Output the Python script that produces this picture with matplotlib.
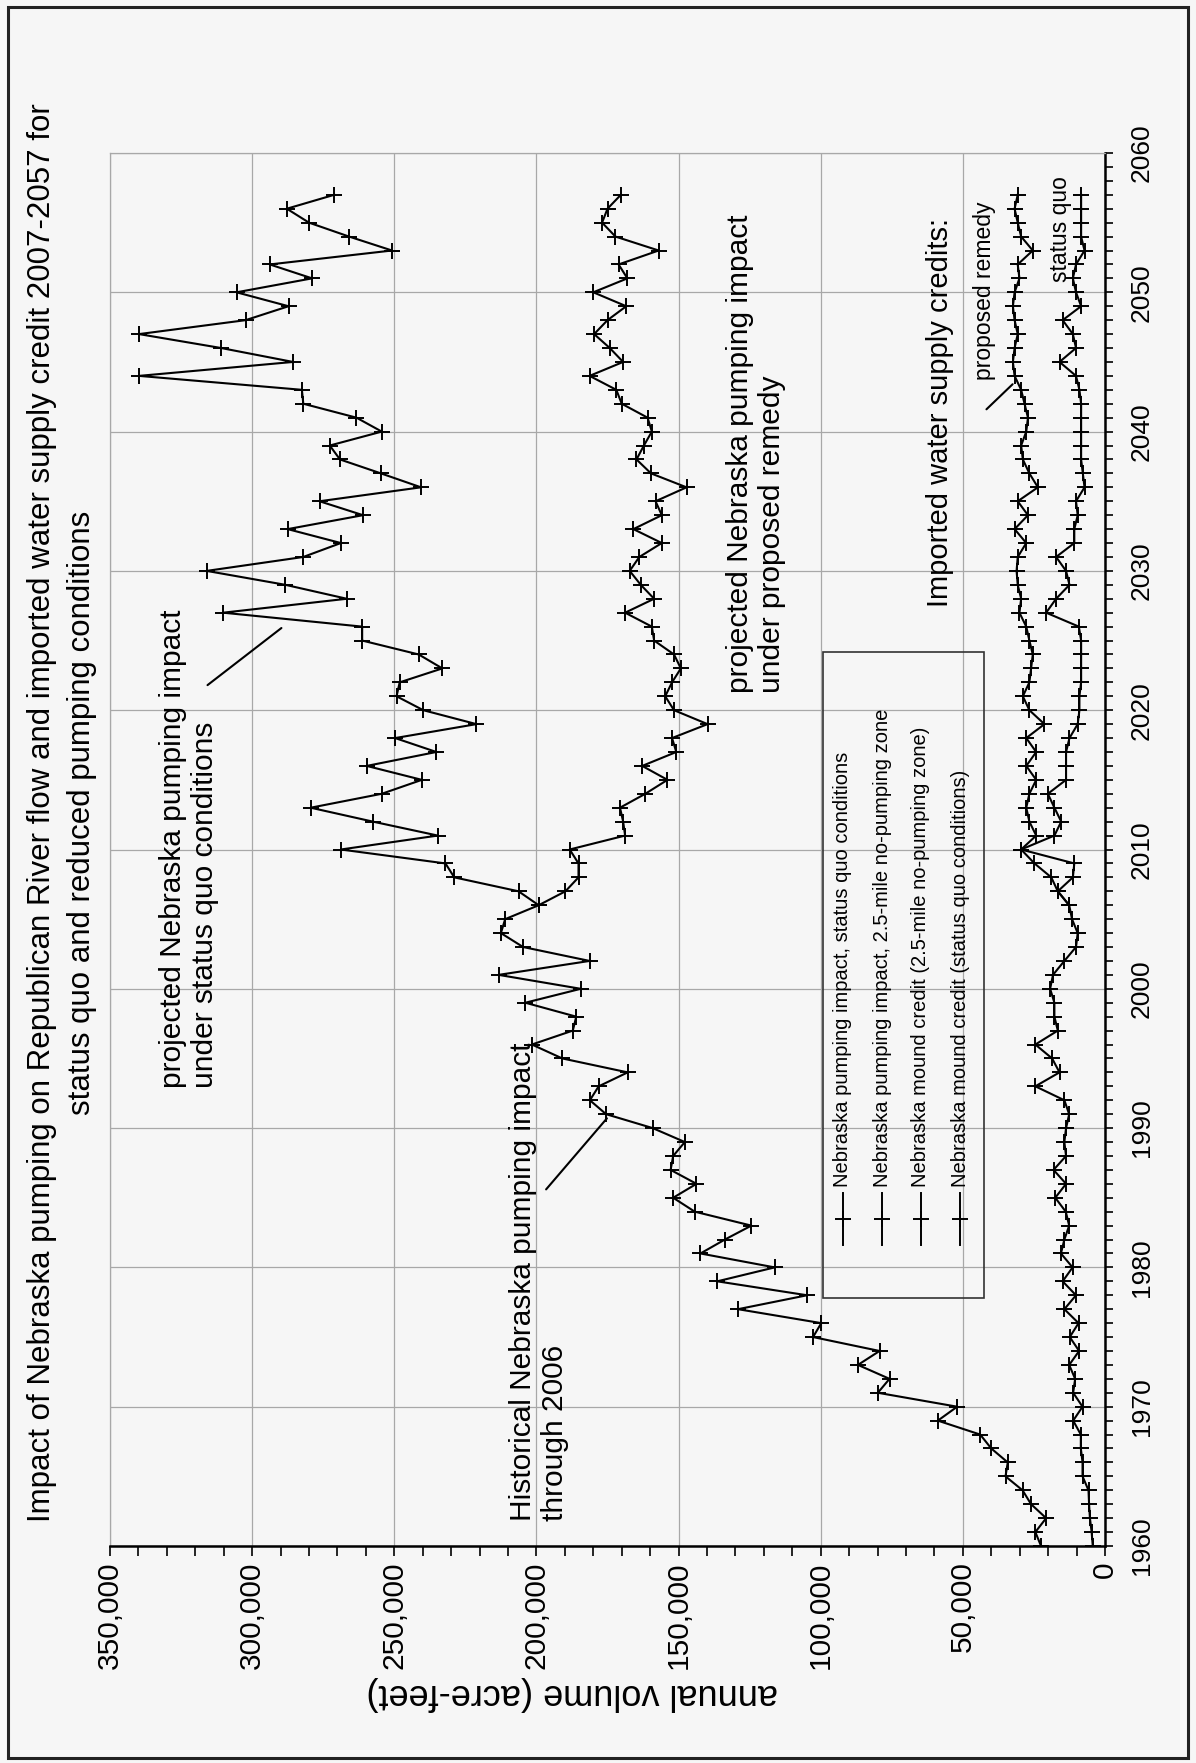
import numpy as np
import matplotlib
matplotlib.use('Agg')
import matplotlib.pyplot as plt
from matplotlib.patches import Rectangle
from matplotlib.lines import Line2D

plt.rcParams['font.family'] = ['Liberation Sans', 'DejaVu Sans']

# ---- data (acre-feet) ----
hist_years = list(range(1960, 2007))
hist_impact = [22500, 24500, 20700, 26000, 29000, 35000, 34200, 40000, 43900, 58800,
               52000, 79900, 75800, 86900, 79300, 102700, 99800, 129100, 104800, 136400,
               116200, 142300, 133700, 124400, 144300, 151900, 143700, 152800, 151900, 147800,
               159100, 175500, 181200, 178100, 167900, 190900, 201600, 187200, 186000, 203900,
               184400, 213300, 181300, 204700, 212500, 211000, 199200]
hist_credit = [4300, 4700, 5300, 5600, 5800, 7900, 7900, 8500, 8500, 11200,
               7900, 11200, 10500, 12600, 9100, 12400, 9300, 14300, 10200, 14900,
               11400, 15500, 14300, 12600, 13800, 17500, 13700, 18100, 13700, 14300,
               13700, 12600, 14300, 24500, 16000, 18600, 24500, 16600, 17800, 17800,
               19300, 18300, 14300, 10200, 9600, 11600, 12600]

proj_years = list(range(2007, 2058))
sq_impact = [206300, 228900, 232000, 268800, 234700, 257500, 279400, 254400, 240300, 259700,
             235200, 249700, 221100, 239800, 249200, 248100, 233100, 241400, 261300, 261300,
             310200, 266700, 288300, 316000, 282000, 268800, 287500, 261000, 276300, 240600,
             254700, 269100, 272700, 254400, 263300, 282000, 282500, 339800, 285600, 310900,
             339800, 302300, 287200, 305500, 278900, 293800, 250800, 265900, 280000, 287800,
             271100]
rem_impact = [189800, 185200, 185200, 188300, 168800, 169500, 170600, 161700, 153900, 162800,
              150800, 152300, 139800, 151600, 154700, 152300, 149200, 151600, 158600, 159400,
              168800, 158600, 163300, 167200, 163800, 155900, 165900, 155900, 158100, 147200,
              159700, 164800, 162200, 159400, 160900, 170000, 171900, 181300, 169500, 174200,
              179700, 175000, 168400, 180000, 168000, 171100, 157000, 172200, 176900, 175000,
              170300]
sq_credit = [16600, 11300, 10800, 29500, 17800, 15400, 17800, 20100, 13700, 13700,
             13700, 12500, 9600, 9000, 9000, 8400, 8400, 8400, 8400, 9200,
             20700, 17200, 12500, 13700, 17200, 10800, 10800, 9600, 10200, 7200,
             7800, 8400, 8400, 8400, 8400, 8400, 9000, 10200, 16000, 10200,
             11300, 14900, 8400, 10200, 11300, 10200, 7200, 8400, 8400, 8400,
             8400]
rem_credit = [16600, 18900, 24800, 29500, 24200, 26600, 27700, 26600, 24200, 27700,
              24200, 27700, 21300, 26600, 28900, 26600, 26000, 25400, 26600, 27700,
              30100, 29500, 30700, 31100, 30700, 27700, 31800, 27100, 30700, 23600,
              26600, 28900, 29500, 27700, 27100, 28300, 29500, 31800, 32400, 31800,
              30700, 31800, 32400, 31800, 30100, 30700, 25400, 29500, 30700, 31800,
              30700]

legend_labels = ['Nebraska pumping impact, status quo conditions',
                 'Nebraska pumping impact, 2.5-mile no-pumping zone',
                 'Nebraska mound credit (2.5-mile no-pumping zone)',
                 'Nebraska mound credit (status quo conditions)']

# ---- figure: the page is a landscape chart turned a quarter turn ----
W, H = 1196, 1763
BG = '#f6f6f6'
fig = plt.figure(figsize=(W / 100, H / 100), dpi=100, facecolor=BG)


def fx(px):
    return px / W


def fy(py):
    return 1 - py / H


ax = fig.add_axes([fx(110), fy(1546), fx(1105) - fx(110), fy(153) - fy(1546)])
ax.set_facecolor(BG)

style = dict(color='black', lw=1.5, marker='+', ms=11, mew=1.4)
# status quo = history + projection; the remedy lines start from the last historical year
ax.plot(hist_impact + sq_impact, hist_years + proj_years, **style)
ax.plot([hist_impact[-1]] + rem_impact, [hist_years[-1]] + proj_years, **style)
ax.plot([hist_credit[-1]] + rem_credit, [hist_years[-1]] + proj_years, **style)
ax.plot(hist_credit + sq_credit, hist_years + proj_years, **style)

ax.set_xlim(350000, 0)
ax.set_ylim(1960, 2060)

xt = np.arange(0, 350001, 50000)
ax.set_xticks(xt)
ax.set_xticklabels([f'{v:,}' for v in xt], rotation=90, ha='center', va='top', fontsize=21.5)
ax.set_xticks(np.arange(0, 350001, 10000), minor=True)
yt = np.arange(1960, 2061, 10)
ax.yaxis.tick_right()
ax.set_yticks(yt)
ax.set_yticklabels([str(y) for y in yt], rotation=90, ha='left', va='center', fontsize=19)
ax.set_yticks(np.arange(1960, 2061, 1), minor=True)
ax.tick_params(axis='x', which='both', direction='out', length=7, width=1.2, pad=4)
ax.tick_params(axis='y', which='both', direction='out', length=6, width=1.2, pad=12,
               right=True, left=False)

ax.grid(True, which='major', color='#a8a8a8', lw=0.9)
for s in ['bottom', 'right']:
    ax.spines[s].set_color('black')
    ax.spines[s].set_linewidth(1.8)
for s in ['top', 'left']:
    ax.spines[s].set_color('#a8a8a8')
    ax.spines[s].set_linewidth(0.9)

# ---- texts ----
tr = fig.transFigure
fig.text(fx(62), fy(813),
         'Impact of Nebraska pumping on Republican River flow and imported water supply credit 2007-2057 for\n'
         'status quo and reduced pumping conditions',
         rotation=90, ha='center', va='center', multialignment='center', fontsize=22.5, linespacing=1.45)
fig.text(fx(572), fy(1694), 'annual volume (acre-feet)', rotation=180, ha='center', va='center', fontsize=26)

ann = dict(rotation=90, ha='center', va='bottom', multialignment='left', fontsize=21.5, linespacing=1.15)
fig.text(fx(189), fy(1088), 'projected Nebraska pumping impact\nunder status quo conditions', **ann)
fig.text(fx(539), fy(1521), 'Historical Nebraska pumping impact\nthrough 2006', **ann)
fig.text(fx(756), fy(693), 'projected Nebraska pumping impact\nunder proposed remedy', **ann)
fig.text(fx(940), fy(607), 'Imported water supply credits:', rotation=90, ha='center', va='bottom', fontsize=21)
fig.text(fx(985), fy(380), 'proposed remedy', rotation=90, ha='center', va='bottom', fontsize=16.5)
fig.text(fx(1060), fy(282), 'status quo', rotation=90, ha='center', va='bottom', fontsize=16.5)

# leader lines (data coordinates)
lead = dict(arrowprops=dict(arrowstyle='-', lw=1.5, color='black', shrinkA=0, shrinkB=0))
ax.annotate('', xy=(175200, 1990.7), xytext=(196600, 1985.6), **lead)
ax.annotate('', xy=(289700, 2025.9), xytext=(315700, 2021.8), **lead)
ax.annotate('', xy=(32500, 2043.4), xytext=(41700, 2041.6), **lead)

# ---- legend drawn by hand (entries turned with the page) ----
fig.patches.append(Rectangle((fx(823), fy(1298)), fx(984) - fx(823), fy(652) - fy(1298),
                             transform=tr, fill=False, ec='#333333', lw=1.2))
for i, lab in enumerate(legend_labels):
    x = fx(843 + i * 39)
    fig.lines.append(Line2D([x, x], [fy(1245), fy(1193)], transform=tr, color='black', lw=1.4))
    fig.lines.append(Line2D([x], [fy(1219)], transform=tr, color='black', marker='+', ms=11, mew=1.4))
    fig.text(x, fy(1187), lab, rotation=90, ha='center', va='bottom', fontsize=14.5)

# page frame
fig.patches.append(Rectangle((fx(8), fy(1758)), fx(1188) - fx(8), fy(7) - fy(1758),
                             transform=tr, fill=False, ec='#222222', lw=2.2))

fig.savefig('out.png', dpi=100, facecolor=BG)
